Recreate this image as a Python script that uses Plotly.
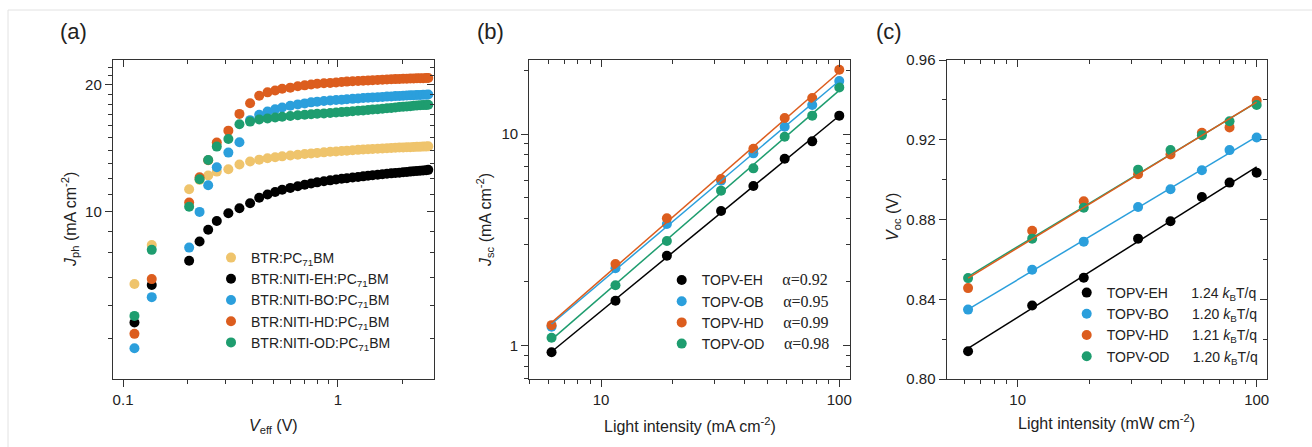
import numpy as np
import plotly.graph_objects as go

W, H = 1312, 447

# ---------------- data: panel (a) ----------------
VEFF = [0.113, 0.136, 0.203, 0.227, 0.249, 0.273, 0.309, 0.348,
        0.39, 0.43, 0.47, 0.51, 0.55, 0.60, 0.65, 0.70, 0.75, 0.80,
        0.86, 0.92, 0.98, 1.04, 1.10, 1.17, 1.24, 1.31, 1.38, 1.45,
        1.53, 1.61, 1.69, 1.77, 1.85, 1.93, 2.01, 2.09, 2.17, 2.25,
        2.33, 2.41, 2.49, 2.57, 2.63]
JPH_BTR = [6.75, 8.35, 11.32, 11.91, 12.20, 12.46, 12.62, 12.95,
           13.16, 13.30, 13.40, 13.48, 13.54, 13.60, 13.66, 13.71, 13.76, 13.80,
           13.84, 13.88, 13.91, 13.94, 13.97, 14.00, 14.03, 14.06, 14.08, 14.10,
           14.12, 14.14, 14.16, 14.18, 14.19, 14.21, 14.22, 14.23, 14.24, 14.25,
           14.26, 14.27, 14.28, 14.29, 14.30]
JPH_EH = [5.47, 6.71, 7.66, 8.51, 9.07, 9.52, 9.93, 10.20,
          10.48, 10.80, 11.00, 11.15, 11.28, 11.40, 11.50, 11.60, 11.68, 11.75,
          11.82, 11.88, 11.93, 11.98, 12.02, 12.06, 12.10, 12.14, 12.18, 12.21,
          12.25, 12.28, 12.31, 12.34, 12.37, 12.39, 12.42, 12.44, 12.46, 12.48,
          12.50, 12.52, 12.54, 12.56, 12.58]
JPH_BO = [4.75, 6.28, 8.23, 10.00, 11.57, 12.76, 13.82, 14.63,
          16.50, 17.00, 17.30, 17.50, 17.68, 17.85, 17.98, 18.08, 18.18, 18.25,
          18.31, 18.36, 18.41, 18.45, 18.49, 18.53, 18.57, 18.61, 18.64, 18.67,
          18.70, 18.73, 18.76, 18.78, 18.81, 18.83, 18.85, 18.87, 18.89, 18.91,
          18.92, 18.93, 18.95, 18.96, 18.98]
JPH_HD = [5.14, 6.93, 10.52, 12.08, 13.25, 14.60, 15.58, 17.07,
          18.10, 18.85, 19.20, 19.40, 19.58, 19.70, 19.85, 19.95, 20.05, 20.12,
          20.17, 20.22, 20.27, 20.31, 20.36, 20.40, 20.43, 20.46, 20.49, 20.52,
          20.55, 20.58, 20.60, 20.62, 20.64, 20.66, 20.68, 20.69, 20.71, 20.72,
          20.73, 20.74, 20.75, 20.76, 20.77]
JPH_OD = [5.67, 8.13, 10.29, 11.95, 13.28, 14.28, 14.89, 16.13,
          16.37, 16.55, 16.65, 16.74, 16.81, 16.88, 16.94, 17.00, 17.04, 17.08,
          17.12, 17.16, 17.20, 17.24, 17.28, 17.32, 17.36, 17.40, 17.44, 17.48,
          17.52, 17.56, 17.60, 17.64, 17.68, 17.72, 17.75, 17.78, 17.81, 17.84,
          17.87, 17.89, 17.91, 17.93, 17.95]
NAMES_A = ["BTR:PC<sub>71</sub>BM", "BTR:NITI-EH:PC<sub>71</sub>BM",
           "BTR:NITI-BO:PC<sub>71</sub>BM", "BTR:NITI-HD:PC<sub>71</sub>BM",
           "BTR:NITI-OD:PC<sub>71</sub>BM"]

# ---------------- data: panels (b) and (c) ----------------
INTENSITY = [6.2, 11.5, 18.9, 31.9, 43.6, 59.0, 77.0, 100.0]
JSC_EH = [0.93, 1.63, 2.66, 4.33, 5.68, 7.64, 9.23, 12.21]
JSC_OB = [1.23, 2.32, 3.76, 6.02, 8.10, 10.83, 13.71, 17.8]
JSC_HD = [1.25, 2.43, 4.00, 6.13, 8.52, 11.9, 14.8, 20.13]
JSC_OD = [1.09, 1.93, 3.12, 5.40, 6.88, 9.71, 12.21, 16.6]
NAMES_B = ["TOPV-EH", "TOPV-OB", "TOPV-HD", "TOPV-OD"]
ALPHA_B = ["0.92", "0.95", "0.99", "0.98"]

VOC_EH = [0.8139, 0.8369, 0.8508, 0.8704, 0.8791, 0.8913, 0.8985, 0.9035]
VOC_BO = [0.8348, 0.8548, 0.8689, 0.8863, 0.8952, 0.9047, 0.9148, 0.9211]
VOC_HD = [0.8456, 0.8744, 0.8891, 0.9027, 0.9126, 0.9235, 0.9262, 0.9396]
VOC_OD = [0.8506, 0.8704, 0.8859, 0.9050, 0.9148, 0.9223, 0.9293, 0.9374]
NAMES_C = ["TOPV-EH", "TOPV-BO", "TOPV-HD", "TOPV-OD"]
SLOPE_C = ["1.24", "1.20", "1.21", "1.20"]

# tick labels
XTICKS_A = [0.1, 1]
XTICKTEXT_A = ["0.1", "1"]
YTICKS_A = [10, 20]
YTICKTEXT_A = ["10", "20"]
XTICKS_BC = [10, 100]
XTICKTEXT_BC = ["10", "100"]
YTICKS_B = [1, 10]
YTICKTEXT_B = ["1", "10"]
YTICKS_C = [0.80, 0.84, 0.88, 0.92, 0.96]
YTICKTEXT_C = ["0.80", "0.84", "0.88", "0.92", "0.96"]

# ---------------- style ----------------
C_BTR = "#EFC46C"
C_EH = "#000000"
C_BO = "#2B9FDC"
C_HD = "#DC5D1E"
C_OD = "#1E9D6F"
SANS = "Arial, Liberation Sans, sans-serif"
SERIF = "Times New Roman, Liberation Serif, serif"
AX = "#333333"
TXT = "#222222"
NB = "\u00a0"
MS = 10


def px(x):
    return x / W


def py(y):
    return 1 - y / H


fig = go.Figure()

# panel (a)
for nm, ys, col in zip(NAMES_A, [JPH_BTR, JPH_EH, JPH_BO, JPH_HD, JPH_OD],
                       [C_BTR, C_EH, C_BO, C_HD, C_OD]):
    fig.add_trace(go.Scatter(x=VEFF, y=ys, mode="markers", name=nm,
                             marker=dict(size=MS, color=col, line=dict(width=0)),
                             xaxis="x", yaxis="y", legend="legend"))

# panel (b)
cols_b = [C_EH, C_BO, C_HD, C_OD]
data_b = [JSC_EH, JSC_OB, JSC_HD, JSC_OD]
for nm, a, ys, col in zip(NAMES_B, ALPHA_B, data_b, cols_b):
    label = (nm + NB * 5 +
             "<span style='font-family:" + SERIF + ";font-size:16px'>α=" + a + "</span>")
    fig.add_trace(go.Scatter(x=INTENSITY, y=ys, mode="markers", name=label,
                             marker=dict(size=MS, color=col, line=dict(width=0)),
                             xaxis="x2", yaxis="y2", legend="legend2"))
lx = np.log10(INTENSITY)
for ys, col in zip(data_b, cols_b):
    k, b = np.polyfit(lx, np.log10(ys), 1)
    fig.add_trace(go.Scatter(x=INTENSITY, y=10 ** (k * lx + b), mode="lines",
                             line=dict(color=col, width=1.5), showlegend=False,
                             hoverinfo="skip", xaxis="x2", yaxis="y2"))

# panel (c)
cols_c = [C_EH, C_BO, C_HD, C_OD]
data_c = [VOC_EH, VOC_BO, VOC_HD, VOC_OD]
for nm, s, ys, col in zip(NAMES_C, SLOPE_C, data_c, cols_c):
    label = nm + NB * 6 + s + " <i>k</i><sub>B</sub>T/q"
    fig.add_trace(go.Scatter(x=INTENSITY, y=ys, mode="markers", name=label,
                             marker=dict(size=MS, color=col, line=dict(width=0)),
                             xaxis="x3", yaxis="y3", legend="legend3"))
for idx in [0, 1, 3, 2]:
    k, b = np.polyfit(lx, data_c[idx], 1)
    fig.add_trace(go.Scatter(x=INTENSITY, y=k * lx + b, mode="lines",
                             line=dict(color=cols_c[idx], width=1.5), showlegend=False,
                             hoverinfo="skip", xaxis="x3", yaxis="y3"))

# empty traces for the mirrored (top / right) axes
for xa, ya in [("x4", "y4"), ("x5", "y5"), ("x6", "y6")]:
    fig.add_trace(go.Scatter(x=[], y=[], xaxis=xa, yaxis=ya, showlegend=False,
                             hoverinfo="skip"))

LOG_MINOR_A_X = [0.2, 0.3, 0.4, 0.5, 0.6, 0.7, 0.8, 0.9, 2]
LOG_MINOR_A_Y = [5, 6, 7, 8, 9, 11, 12, 13, 14, 15, 16, 17, 18, 19, 21, 22]
LOG_MINOR_BC_X = [5, 6, 7, 8, 9, 20, 30, 40, 50, 60, 70, 80, 90]
LOG_MINOR_B_Y = [0.7, 0.8, 0.9, 2, 3, 4, 5, 6, 7, 8, 9, 20]
LIN_MINOR_C_Y = [0.82, 0.86, 0.90, 0.94]


def axis(domain, typ, rng, tickvals, ticktext, minor_vals, anchor, side=None,
         overlaying=None, mirror_side=False):
    d = dict(type=typ, range=rng, anchor=anchor, showline=True, linecolor=AX,
             linewidth=1.4, showgrid=False, zeroline=False, automargin=False,
             tickmode="array", tickvals=tickvals, ticktext=ticktext,
             ticks="inside" if mirror_side else "outside", ticklen=7,
             tickwidth=1.2, tickcolor=AX,
             tickfont=dict(family=SANS, size=15, color=TXT),
             showticklabels=not mirror_side,
             minor=dict(tickmode="array", tickvals=minor_vals,
                        ticks="inside" if mirror_side else "outside",
                        ticklen=4, tickwidth=1.1, tickcolor=AX, showgrid=False),
             fixedrange=True)
    if domain is not None:
        d["domain"] = domain
    if side:
        d["side"] = side
    if overlaying:
        d["overlaying"] = overlaying
    return d


YD = [py(379), py(60)]
XA = [px(113), px(434)]
XB = [px(529.3), px(850)]
XC = [px(946.7), px(1266.7)]
RX_A = [np.log10(0.0898), np.log10(2.797)]
RY_A = [0.604, 1.360]
RX_B = [0.699, 2.045]
RY_B = [-0.1575, 1.3496]
RX_C = [0.703, 2.042]
RY_C = [0.80, 0.96]

layout_axes = dict(
    xaxis=axis(XA, "log", RX_A, XTICKS_A, XTICKTEXT_A, LOG_MINOR_A_X, "y"),
    yaxis=axis(YD, "log", RY_A, YTICKS_A, YTICKTEXT_A, LOG_MINOR_A_Y, "x"),
    xaxis2=axis(XB, "log", RX_B, XTICKS_BC, XTICKTEXT_BC, LOG_MINOR_BC_X, "y2"),
    yaxis2=axis(YD, "log", RY_B, YTICKS_B, YTICKTEXT_B, LOG_MINOR_B_Y, "x2"),
    xaxis3=axis(XC, "log", RX_C, XTICKS_BC, XTICKTEXT_BC, LOG_MINOR_BC_X, "y3"),
    yaxis3=axis(YD, "linear", RY_C, YTICKS_C, YTICKTEXT_C, LIN_MINOR_C_Y, "x3"),
    xaxis4=axis(None, "log", RX_A, XTICKS_A, XTICKTEXT_A, LOG_MINOR_A_X, "y4",
                side="top", overlaying="x", mirror_side=True),
    yaxis4=axis(None, "log", RY_A, YTICKS_A, YTICKTEXT_A, LOG_MINOR_A_Y, "x4",
                side="right", overlaying="y", mirror_side=True),
    xaxis5=axis(None, "log", RX_B, XTICKS_BC, XTICKTEXT_BC, LOG_MINOR_BC_X, "y5",
                side="top", overlaying="x2", mirror_side=True),
    yaxis5=axis(None, "log", RY_B, YTICKS_B, YTICKTEXT_B, LOG_MINOR_B_Y, "x5",
                side="right", overlaying="y2", mirror_side=True),
    xaxis6=axis(None, "log", RX_C, XTICKS_BC, XTICKTEXT_BC, LOG_MINOR_BC_X, "y6",
                side="top", overlaying="x3", mirror_side=True),
    yaxis6=axis(None, "linear", RY_C, YTICKS_C, YTICKTEXT_C, LIN_MINOR_C_Y, "x6",
                side="right", overlaying="y3", mirror_side=True),
)


def legend(x, y):
    return dict(x=px(x), y=py(y), xanchor="left", yanchor="top",
                bgcolor="rgba(0,0,0,0)", borderwidth=0,
                font=dict(family=SANS, size=14, color=TXT),
                itemclick=False, itemdoubleclick=False)


def ann(text, x, y, size=16, angle=0):
    return dict(text=text, x=px(x), y=py(y), xref="paper", yref="paper",
                showarrow=False, xanchor="center", yanchor="middle",
                textangle=angle, font=dict(family=SANS, size=size, color=TXT))


annotations = [
    ann("(a)", 73, 31, size=22),
    ann("(b)", 490, 31, size=22),
    ann("(c)", 889, 31, size=22),
    ann("<i>V</i><sub>eff</sub> (V)", 273.5, 426),
    ann("<i>J</i><sub>ph</sub> (mA cm<sup>-2</sup>)", 70, 220, angle=-90),
    ann("Light intensity (mA cm<sup>-2</sup>)", 690, 425),
    ann("<i>J</i><sub>sc</sub> (mA cm<sup>-2</sup>)", 485, 220, angle=-90),
    ann("Light intensity (mW cm<sup>-2</sup>)", 1106.7, 422),
    ann("<i>V</i><sub>oc</sub> (V)", 893, 217, angle=-90),
]

fig.update_layout(
    template="none",
    width=W, height=H, margin=dict(l=0, r=0, t=0, b=0, pad=0, autoexpand=False),
    paper_bgcolor="white", plot_bgcolor="rgba(0,0,0,0)",
    font=dict(family=SANS, color=TXT),
    showlegend=True,
    legend=legend(211, 242),
    legend2=legend(661.7, 264.4),
    legend3=legend(1066.7, 277),
    annotations=annotations,
    shapes=[dict(type="rect", xref="paper", yref="paper", x0=px(8), x1=1.05,
                 y0=-0.1, y1=py(10), line=dict(color="#E2E2E2", width=1),
                 layer="below")],
    hovermode=False,
    **layout_axes,
)

fig.write_html(
    "out.html",
    config={"displayModeBar": False, "staticPlot": False},
    post_script="document.body.style.margin='0';document.body.style.padding='0';"
                "document.body.style.overflow='hidden';",
)
